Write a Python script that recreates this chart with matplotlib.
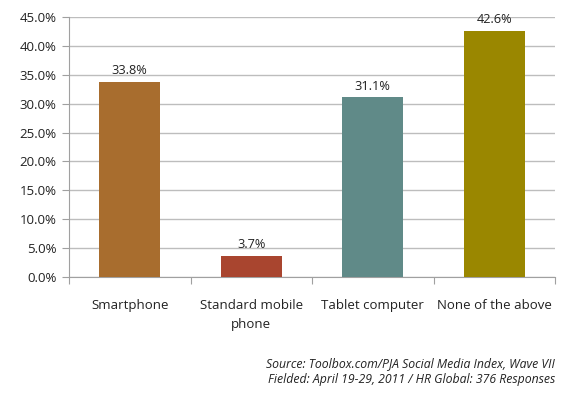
import matplotlib
matplotlib.use("Agg")
import matplotlib.pyplot as plt
from matplotlib.ticker import FixedLocator, NullFormatter

categories = ["Smartphone", "Standard mobile\nphone", "Tablet computer", "None of the above"]
values = [33.8, 3.7, 31.1, 42.6]
colors = ["#A86D2E", "#A9452F", "#608A88", "#9A8700"]
yticks = [0, 5, 10, 15, 20, 25, 30, 35, 40, 45]

plt.rcParams['font.family'] = ['Open Sans', 'DejaVu Sans']

fig = plt.figure(figsize=(5.8, 3.96), dpi=100)
ax = fig.add_axes([69/580, 1-277/396, (555-69)/580, (277-17)/396])

x = list(range(len(categories)))
ax.bar(x, values, width=0.5, color=colors, zorder=3)
for xi, v in zip(x, values):
    ax.text(xi, v + 0.8, f"{v:.1f}%", ha="center", va="bottom", fontsize=9.2, color="#222222", zorder=4)

ax.set_xlim(-0.5, len(categories) - 0.5)
ax.set_ylim(0, 45)
ax.set_yticks(yticks)
ax.set_yticklabels([f"{t:.1f}%" for t in yticks], fontsize=9.5, color="#222222")
ax.yaxis.grid(True, color="#BDBDBD", linewidth=1.0, zorder=0)
ax.set_axisbelow(True)

ax.xaxis.set_major_locator(FixedLocator([i - 0.5 for i in range(len(categories) + 1)]))
ax.xaxis.set_major_formatter(NullFormatter())
ax.xaxis.set_minor_locator(FixedLocator(x))
ax.set_xticklabels(categories, minor=True, fontsize=9.5, color="#222222", linespacing=1.55)
ax.tick_params(axis="x", which="minor", length=0, pad=16)
ax.tick_params(axis="x", which="major", length=5, color="#A0A0A0", direction="out")
ax.tick_params(axis="y", length=5, color="#A0A0A0", direction="out", pad=4)

for s in ["top", "right"]:
    ax.spines[s].set_visible(False)
ax.spines["left"].set_color("#A0A0A0")
ax.spines["bottom"].set_color("#A0A0A0")

fig.text(555/580, 1-364/396, "Source: Toolbox.com/PJA Social Media Index, Wave VII",
         ha="right", va="center", fontsize=8.8, style="italic", color="#222222")
fig.text(555/580, 1-380/396, "Fielded: April 19-29, 2011 / HR Global: 376 Responses",
         ha="right", va="center", fontsize=8.8, style="italic", color="#222222")

fig.savefig("out.png", dpi=100)
